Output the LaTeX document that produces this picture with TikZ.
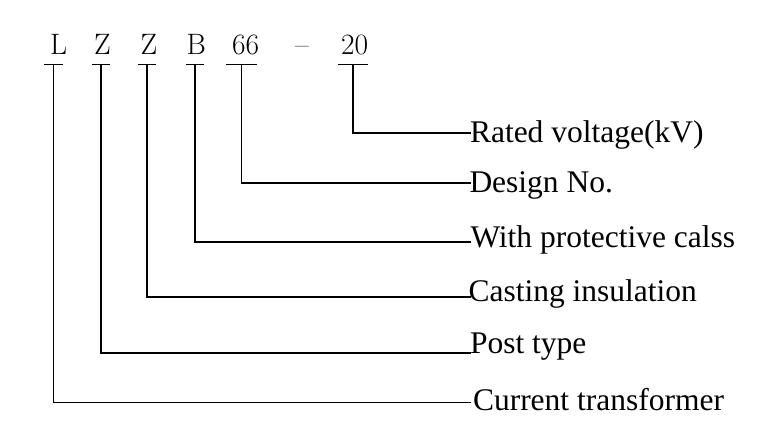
\documentclass[tikz,border=0pt]{standalone}
\usepackage{fontspec}
\newfontfamily\labelfont{Liberation Serif}
\usepackage{tikz}

\begin{document}
\begin{tikzpicture}[x=1pt,y=-1pt,line cap=rect]
				\definecolor{custcol_0_0_0}{RGB}{0, 0, 0}
				\tikzset{codetext/.style={inner sep=0, outer sep=0, custcol_0_0_0, anchor=base west, font=\fontsize{29.5pt}{29.5pt}\selectfont},
					labeltext/.style={inner sep=0, outer sep=0, custcol_0_0_0, anchor=base west, font=\labelfont\fontsize{31.5pt}{31.5pt}\selectfont},
					leader/.style={line width=1.4pt, custcol_0_0_0}}
				\useasboundingbox (0,0) rectangle (777,438);
				% model code on top, one leader per part
				\node[codetext] (codeL) at (50.0,54.5) {L};
				\node[codetext] (codeZa) at (94.0,54.5) {Z};
				\node[codetext] (codeZb) at (140.5,54.5) {Z};
				\node[codetext] (codeB) at (186.5,54.5) {B};
				\node[codetext] (code66) at (232.0,54.5) {66};
				\node[codetext] (codeDash) at (295.0,54.5) {--};
				\node[codetext] (code20) at (341.0,54.5) {20};
				\coordinate (tickL) at (53.5,64.5);
				\coordinate (tickZa) at (101.0,64.5);
				\coordinate (tickZb) at (147.0,64.5);
				\coordinate (tickB) at (195.0,64.5);
				\coordinate (tick66) at (241.5,64.5);
				\coordinate (tick20) at (353.0,64.5);
				\coordinate (endRated) at (470.0,133.0);
				\coordinate (endDesign) at (470.0,183.0);
				\coordinate (endWith) at (470.0,242.0);
				\coordinate (endCast) at (470.0,297.0);
				\coordinate (endPost) at (470.0,353.0);
				\coordinate (endCur) at (470.0,402.5);
				\node[labeltext] (labRated) at (470.0,143.0) {Rated voltage(kV)};
				\node[labeltext] (labDesign) at (469.5,193.0) {Design No.};
				\node[labeltext] (labWith) at (470.5,248.0) {With protective calss};
				\node[labeltext] (labCast) at (468.5,302.0) {Casting insulation};
				\node[labeltext] (labPost) at (470.0,354.0) {Post type};
				\node[labeltext] (labCur) at (473.0,411.0) {Current transformer};
				\draw [leader] ([xshift=-8.5pt]tickL) -- ([xshift=8.5pt]tickL);
				\draw [leader] ([xshift=-8.5pt]tickZa) -- ([xshift=8.5pt]tickZa);
				\draw [leader] ([xshift=-8.5pt]tickZb) -- ([xshift=8.5pt]tickZb);
				\draw [leader] ([xshift=-8.5pt]tickB) -- ([xshift=8.5pt]tickB);
				\draw [leader] ([xshift=-14.5pt]tick66) -- ([xshift=14.5pt]tick66);
				\draw [leader] ([xshift=-14.5pt]tick20) -- ([xshift=14.5pt]tick20);
				\draw [leader] (tick20) -- (tick20 |- endRated) -- (endRated);
				\draw [leader] (tick66) -- (tick66 |- endDesign) -- (endDesign);
				\draw [leader] (tickB) -- (tickB |- endWith) -- (endWith);
				\draw [leader] (tickZb) -- (tickZb |- endCast) -- (endCast);
				\draw [leader] (tickZa) -- (tickZa |- endPost) -- (endPost);
				\draw [leader] (tickL) -- (tickL |- endCur) -- (endCur);
			\end{tikzpicture}
\end{document}
